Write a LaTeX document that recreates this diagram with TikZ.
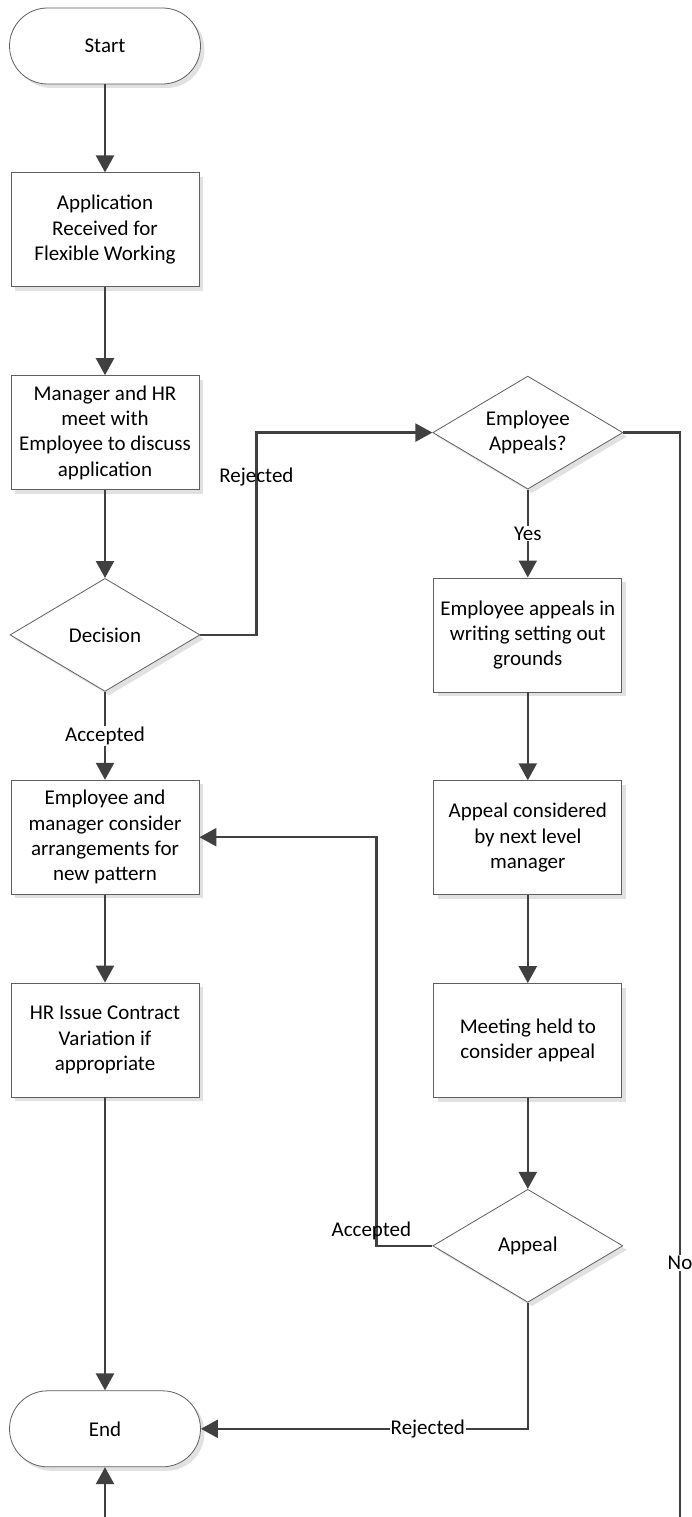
\documentclass[tikz,border=0pt]{standalone}
\usepackage{fontspec}
\setmainfont{Carlito}
\usetikzlibrary{positioning,shapes.geometric,arrows.meta,shadows}
\definecolor{linegray}{RGB}{64,64,64}
\definecolor{edgegray}{RGB}{95,95,95}
\definecolor{shadegray}{RGB}{225,225,225}

\begin{document}
\begin{tikzpicture}[x=1pt, y=-1pt, node distance=88pt,
  every node/.style={font=\fontsize{21pt}{25.3pt}\selectfont, text=black}]
  \tikzstyle{shade}=[drop shadow={shadow xshift=4pt, shadow yshift=-4pt, fill=shadegray, opacity=1}]
  \tikzstyle{terminal}=[draw=edgegray, line width=0.8pt, fill=white, shade, rounded corners=38pt, minimum width=191pt, minimum height=76pt]
  \tikzstyle{process}=[draw=edgegray, line width=0.8pt, fill=white, shade, align=center, inner sep=2pt, minimum width=188pt, minimum height=114pt]
  \tikzstyle{decision}=[draw=edgegray, line width=0.8pt, fill=white, shade, diamond, aspect=1.68, align=center, inner sep=0pt, minimum width=190pt, minimum height=113pt]
  \tikzstyle{flow}=[draw=linegray, line width=2.3pt, -{Triangle[length=17pt, width=18pt]}]
  \tikzstyle{lbl}=[fill=white, inner sep=1pt]
  \tikzstyle{plain}=[inner sep=1pt]

  \useasboundingbox (0,0) rectangle (691,1517);

  \node[terminal] (start) at (105,46) {Start};
  \node[process, below=of start] (appl) {Application\\Received for\\Flexible Working};
  \node[process, below=of appl] (meet) {Manager and HR\\meet with\\Employee to discuss\\application};
  \node[decision, below=of meet] (decide) {Decision};
  \node[process, below=of decide] (arrange) {Employee and\\manager consider\\arrangements for\\new pattern};
  \node[process, below=of arrange] (contract) {HR Issue Contract\\Variation if\\appropriate};
  \node[terminal, below=293pt of contract] (end) {End};

  \node[decision, right=233pt of meet] (appeals) {Employee\\Appeals?};
  \node[process, below=of appeals] (writing) {Employee appeals in\\writing setting out\\grounds};
  \node[process, below=of writing] (review) {Appeal considered\\by next level\\manager};
  \node[process, below=of review] (hearing) {Meeting held to\\consider appeal};
  \node[decision, below=91pt of hearing] (appeal) {Appeal};

  \coordinate (nobend) at (680,1540);

  \draw[flow] (start) -- (appl);
  \draw[flow] (appl) -- (meet);
  \draw[flow] (meet) -- (decide);
  \draw[flow] (decide) -- node[lbl] {Accepted} (arrange);
  \draw[flow] (arrange) -- (contract);
  \draw[flow] (contract) -- (end);
  \draw[flow] (decide.east) -- ++(56,0) |- node[plain, pos=0.39] {Rejected} (appeals.west);
  \draw[flow] (appeals) -- node[lbl] {Yes} (writing);
  \draw[flow] (writing) -- (review);
  \draw[flow] (review) -- (hearing);
  \draw[flow] (hearing) -- (appeal);
  \draw[flow] (appeal.west) -- ++(-56,0) node[plain, xshift=-5pt, yshift=15pt] {Accepted} |- (arrange.east);
  \draw[flow] (appeal.south) |- node[lbl, pos=0.653] {Rejected} (end.east);
  \draw[flow] (appeals.east) -| node[lbl, pos=0.875] {No} (nobend) -| (end.south);
\end{tikzpicture}
\end{document}
